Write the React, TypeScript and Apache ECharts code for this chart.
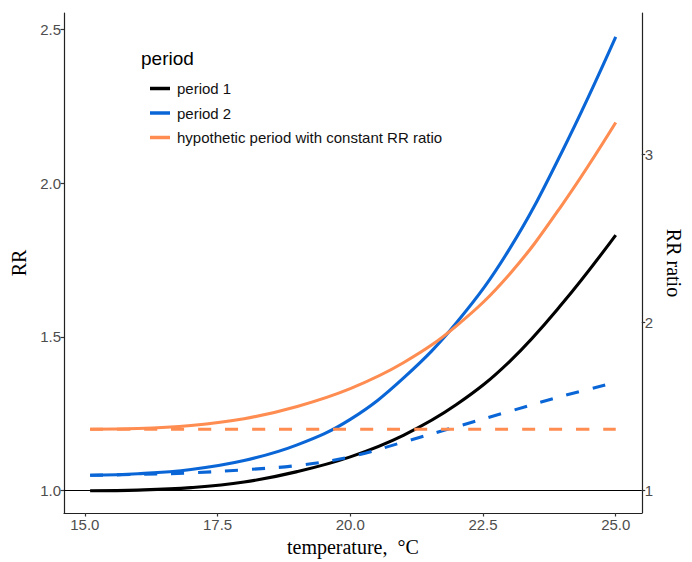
import React, { useEffect, useRef } from "react";
import * as echarts from "echarts";

// temperature, °C
const temperature = [15.1, 16, 17, 18, 19, 20, 21, 22, 23, 24, 25];
// RR, period 1
const period1 = [1.0, 1.002, 1.01, 1.028, 1.062, 1.11, 1.18, 1.28, 1.42, 1.61, 1.831];
// RR, period 2
const period2 = [1.05, 1.055, 1.069, 1.098, 1.149, 1.232, 1.366, 1.546, 1.786, 2.106, 2.475];
// RR, hypothetic period with constant RR ratio
const hypothetic = [1.2, 1.202, 1.212, 1.234, 1.274, 1.332, 1.416, 1.536, 1.704, 1.932, 2.197];
// RR ratio period 2 / period 1 (dashed)
const ratioPeriod2 = [1.05, 1.053, 1.058, 1.068, 1.082, 1.11, 1.158, 1.208, 1.258, 1.308, 1.352];
// constant RR ratio (dashed)
const ratioHypothetic = [1.2, 1.2, 1.2, 1.2, 1.2, 1.2, 1.2, 1.2, 1.2, 1.2, 1.2];

const xTicks = [15, 17.5, 20, 22.5, 25];
const yTicks = [1, 1.5, 2, 2.5];
const y2Ticks = [1, 2, 3];

const legendNames = ["period 1", "period 2", "hypothetic period with constant RR ratio"];

const BLACK = "#000000";
const BLUE = "#0a66d6";
const ORANGE = "#ff8c50";

const pairs = (ys: number[]) => temperature.map((t, i) => [t, ys[i]]);

export default function App() {
  const ref = useRef<HTMLDivElement>(null);
  useEffect(() => {
    if (!ref.current) return;
    const chart = echarts.init(ref.current, undefined, { renderer: "svg" });
    const tickLabel = { color: "#4d4d4d", fontSize: 15, fontFamily: "Liberation Sans, Arial, sans-serif" };
    const axisLine = { show: true, lineStyle: { color: "#222", width: 1.2 } };
    const axisTick = { show: true, length: 3.5, lineStyle: { color: "#333", width: 1.2 } };
    const nameStyle = { fontFamily: "Liberation Serif, Times New Roman, serif", fontSize: 20, color: "#000" };
    const lineSeries = (name: string, data: number[], color: string, dashed: boolean) => ({
      name,
      type: "line",
      data: pairs(data),
      smooth: 0.4,
      showSymbol: false,
      symbol: "none",
      color,
      lineStyle: { color, width: 3.1, type: dashed ? [13, 14] : "solid", cap: "butt" },
      silent: true,
    });
    chart.setOption({
      animation: false,
      backgroundColor: "#ffffff",
      grid: { left: 64, width: 583, top: 13, height: 500, containLabel: false },
      xAxis: {
        type: "value",
        min: 14.608,
        max: 25.49,
        name: "temperature,\u00a0 °C",
        nameLocation: "middle",
        nameGap: 24,
        nameTextStyle: nameStyle,
        axisLine,
        axisTick: { ...axisTick, customValues: xTicks },
        axisLabel: { ...tickLabel, margin: 4, customValues: xTicks, formatter: (v: number) => v.toFixed(1) },
        splitLine: { show: false },
      },
      yAxis: [
        {
          type: "value",
          min: 0.9275,
          max: 2.553,
          name: "RR",
          nameLocation: "middle",
          nameGap: 27,
          nameTextStyle: nameStyle,
          axisLine,
          axisTick: { ...axisTick, customValues: yTicks },
          axisLabel: { ...tickLabel, margin: 3, customValues: yTicks, formatter: (v: number) => v.toFixed(1) },
          splitLine: { show: false },
        },
        {
          type: "value",
          position: "right",
          min: 0.8674,
          max: 3.84,
          name: "RR ratio",
          nameLocation: "middle",
          nameGap: 17,
          nameRotate: -90,
          nameTextStyle: nameStyle,
          axisLine,
          axisTick: { ...axisTick, customValues: y2Ticks },
          axisLabel: { ...tickLabel, margin: 3, customValues: y2Ticks, formatter: (v: number) => String(v) },
          splitLine: { show: false },
        },
      ],
      legend: {
        data: legendNames,
        orient: "vertical",
        left: 145,
        top: 76,
        icon: "rect",
        itemWidth: 20,
        itemHeight: 3.5,
        itemGap: 9.5,
        textStyle: { fontSize: 15, color: "#111", fontFamily: "Liberation Sans, Arial, sans-serif", padding: [0, 0, 0, 2], lineHeight: 15 },
        selectedMode: false,
      },
      graphic: [
        {
          type: "text",
          left: 141,
          top: 49,
          style: { text: "period", fontSize: 19, fill: "#000", fontFamily: "Liberation Sans, Arial, sans-serif" },
        },
      ],
      series: [
        {
          ...lineSeries("period 1", period1, BLACK, false),
          markLine: {
            silent: true,
            symbol: ["none", "none"],
            label: { show: false },
            lineStyle: { color: "#000", width: 1.2, type: "solid" },
            data: [{ yAxis: 1 }],
            z: 1,
          },
          z: 3,
        },
        { ...lineSeries("period 2", period2, BLUE, false), z: 3 },
        { ...lineSeries("hypothetic period with constant RR ratio", hypothetic, ORANGE, false), z: 3 },
        { ...lineSeries("ratio period 2", ratioPeriod2, BLUE, true), z: 4 },
        { ...lineSeries("ratio hypothetic", ratioHypothetic, ORANGE, true), z: 4 },
      ],
    });
    return () => chart.dispose();
  }, []);
  return (
    <div
      ref={ref}
      style={{ position: "fixed", left: 0, top: 0, width: 692, height: 562, background: "#fff" }}
    />
  );
}
